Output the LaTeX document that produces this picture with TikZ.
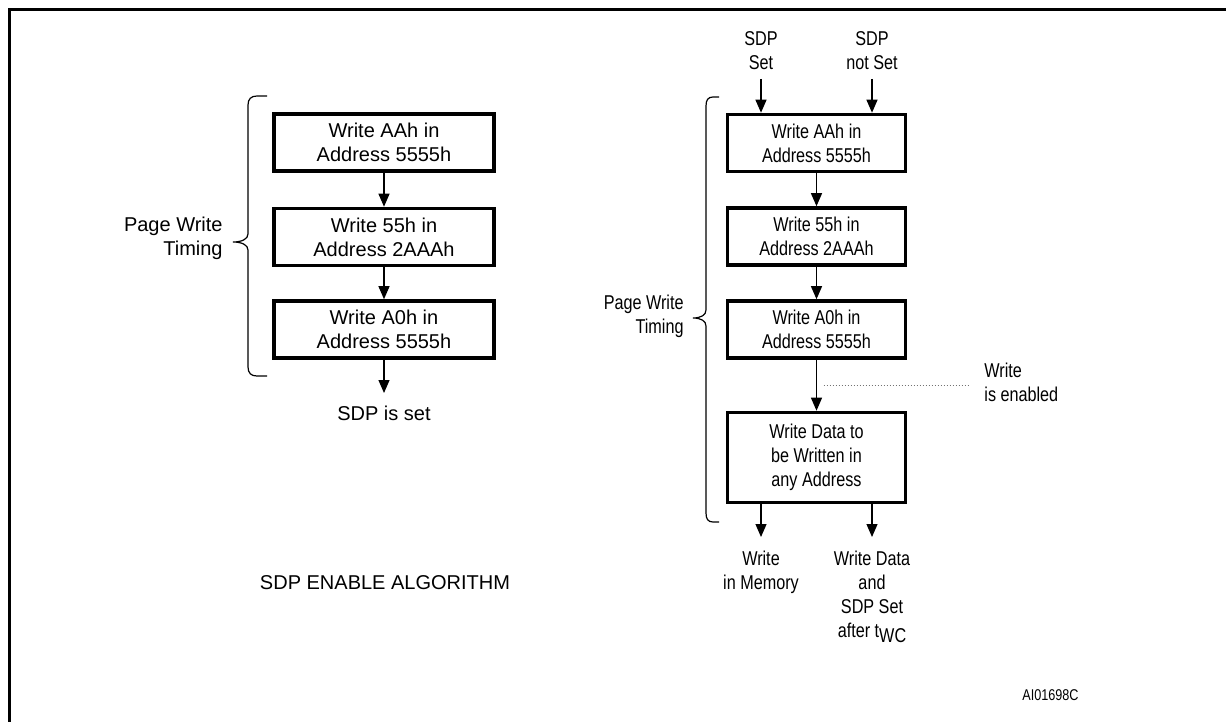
\documentclass[tikz,border=0pt]{standalone}
\usepackage{fontspec}
\setmainfont{Liberation Sans}
\newfontfamily\narrowsf[FakeStretch=0.81]{Liberation Sans}
\usetikzlibrary{arrows.meta,positioning}

\tikzset{
  flowbox/.style={draw, line width=1.8pt, align=center, inner sep=0pt,
    minimum width=110pt, minimum height=28.5pt, font=\fontsize{10}{12}\selectfont},
  narrowbox/.style={flowbox, minimum width=89pt, font=\narrowsf\fontsize{10}{12}\selectfont},
  lbl/.style={align=center, inner sep=0pt, font=\fontsize{10}{12}\selectfont},
  nlbl/.style={lbl, font=\narrowsf\fontsize{10}{12}\selectfont},
  flowarrow/.style={-{Triangle[length=6.5pt,width=5.5pt]}, line width=0.6pt},
  pwbrace/.style={line width=0.6pt},
  dotline/.style={line width=0.5pt, black!55, dash pattern=on 0.5pt off 1pt},
}

\begin{document}
\begin{tikzpicture}[x=0.5pt, y=-0.5pt]
	\useasboundingbox (0,0) rectangle (1226,722);
	\draw[line width=1.5pt] (9,722) -- (9,10) -- (1226,10);

	% enable sequence
	\node[flowbox] (l1) at (384,142.5) {Write AAh in\\Address 5555h};
	\node[flowbox] (l2) at (384,237) {Write 55h in\\Address 2AAAh};
	\node[flowbox] (l3) at (384,329.5) {Write A0h in\\Address 5555h};
	\node[lbl, anchor=north] (lset) at (384,406) {SDP is set};
	\node[lbl, anchor=east, align=right] (lpw) at (223,238) {Page Write\\Timing};
	\node[lbl] (alg) at (385,583) {SDP ENABLE ALGORITHM};
	\draw[flowarrow] (l1) -- (l2);
	\draw[flowarrow] (l2) -- (l3);
	\draw[flowarrow, shorten >=6.5pt] (l3) -- (lset);
	\draw[pwbrace] (267,96) -- (257,96) .. controls (251,96) and (248,99) .. (248,105)
		-- (248,234) .. controls (248,239) and (242,242) .. (233,242)
		.. controls (242,242) and (248,245) .. (248,250)
		-- (248,367) .. controls (248,373) and (251,376) .. (257,376) -- (267,376);

	% write sequence
	\node[nlbl, anchor=south] (sset) at (761,70) {SDP\\Set};
	\node[nlbl, anchor=south] (snot) at (872,70) {SDP\\not Set};
	\node[narrowbox] (r1) at (816.5,143) {Write AAh in\\Address 5555h};
	\node[narrowbox] (r2) at (816.5,236.5) {Write 55h in\\Address 2AAAh};
	\node[narrowbox] (r3) at (816.5,329.5) {Write A0h in\\Address 5555h};
	\node[narrowbox, minimum height=45pt] (r4) at (816.5,457.5) {Write Data to\\be Written in\\any Address};
	\node[nlbl, anchor=north] (wmem) at (761,551) {Write\\in Memory};
	\node[nlbl, anchor=north] (wdata) at (872,551) {Write Data\\and\\SDP Set\\after t\raisebox{-2.5pt}{WC}};
	\node[nlbl, anchor=west, align=left] (wen) at (984,382) {Write\\is enabled};
	\node[nlbl, anchor=east, align=right] (rpw) at (684,316) {Page Write\\Timing};
	\node[lbl, anchor=east, font=\narrowsf\fontsize{7.8}{9}\selectfont] (fignum) at (1079,695) {AI01698C};

	\draw[flowarrow, shorten <=4.5pt] (sset) -- (sset |- r1.north);
	\draw[flowarrow, shorten <=4.5pt] (snot) -- (snot |- r1.north);
	\draw[flowarrow] (r1) -- (r2);
	\draw[flowarrow] (r2) -- (r3);
	\draw[flowarrow] (r3) -- (r4);
	\draw[flowarrow, shorten >=7pt] (r4.south -| wmem) -- (wmem);
	\draw[flowarrow, shorten >=7pt] (r4.south -| wdata) -- (wdata);
	\path (r3.south) -- (r4.north) coordinate[midway] (wmid);
	\draw[dotline, shorten <=3.5pt, shorten >=8pt] (wmid) -- (wmid -| wen.west);
	\draw[pwbrace] (719,97) -- (713,97) .. controls (708,97) and (706,100) .. (706,106)
		-- (706,310) .. controls (706,315) and (701,318) .. (693,318)
		.. controls (701,318) and (706,321) .. (706,326)
		-- (706,513) .. controls (706,519) and (708,522) .. (713,522) -- (719,522);
\end{tikzpicture}
\end{document}
